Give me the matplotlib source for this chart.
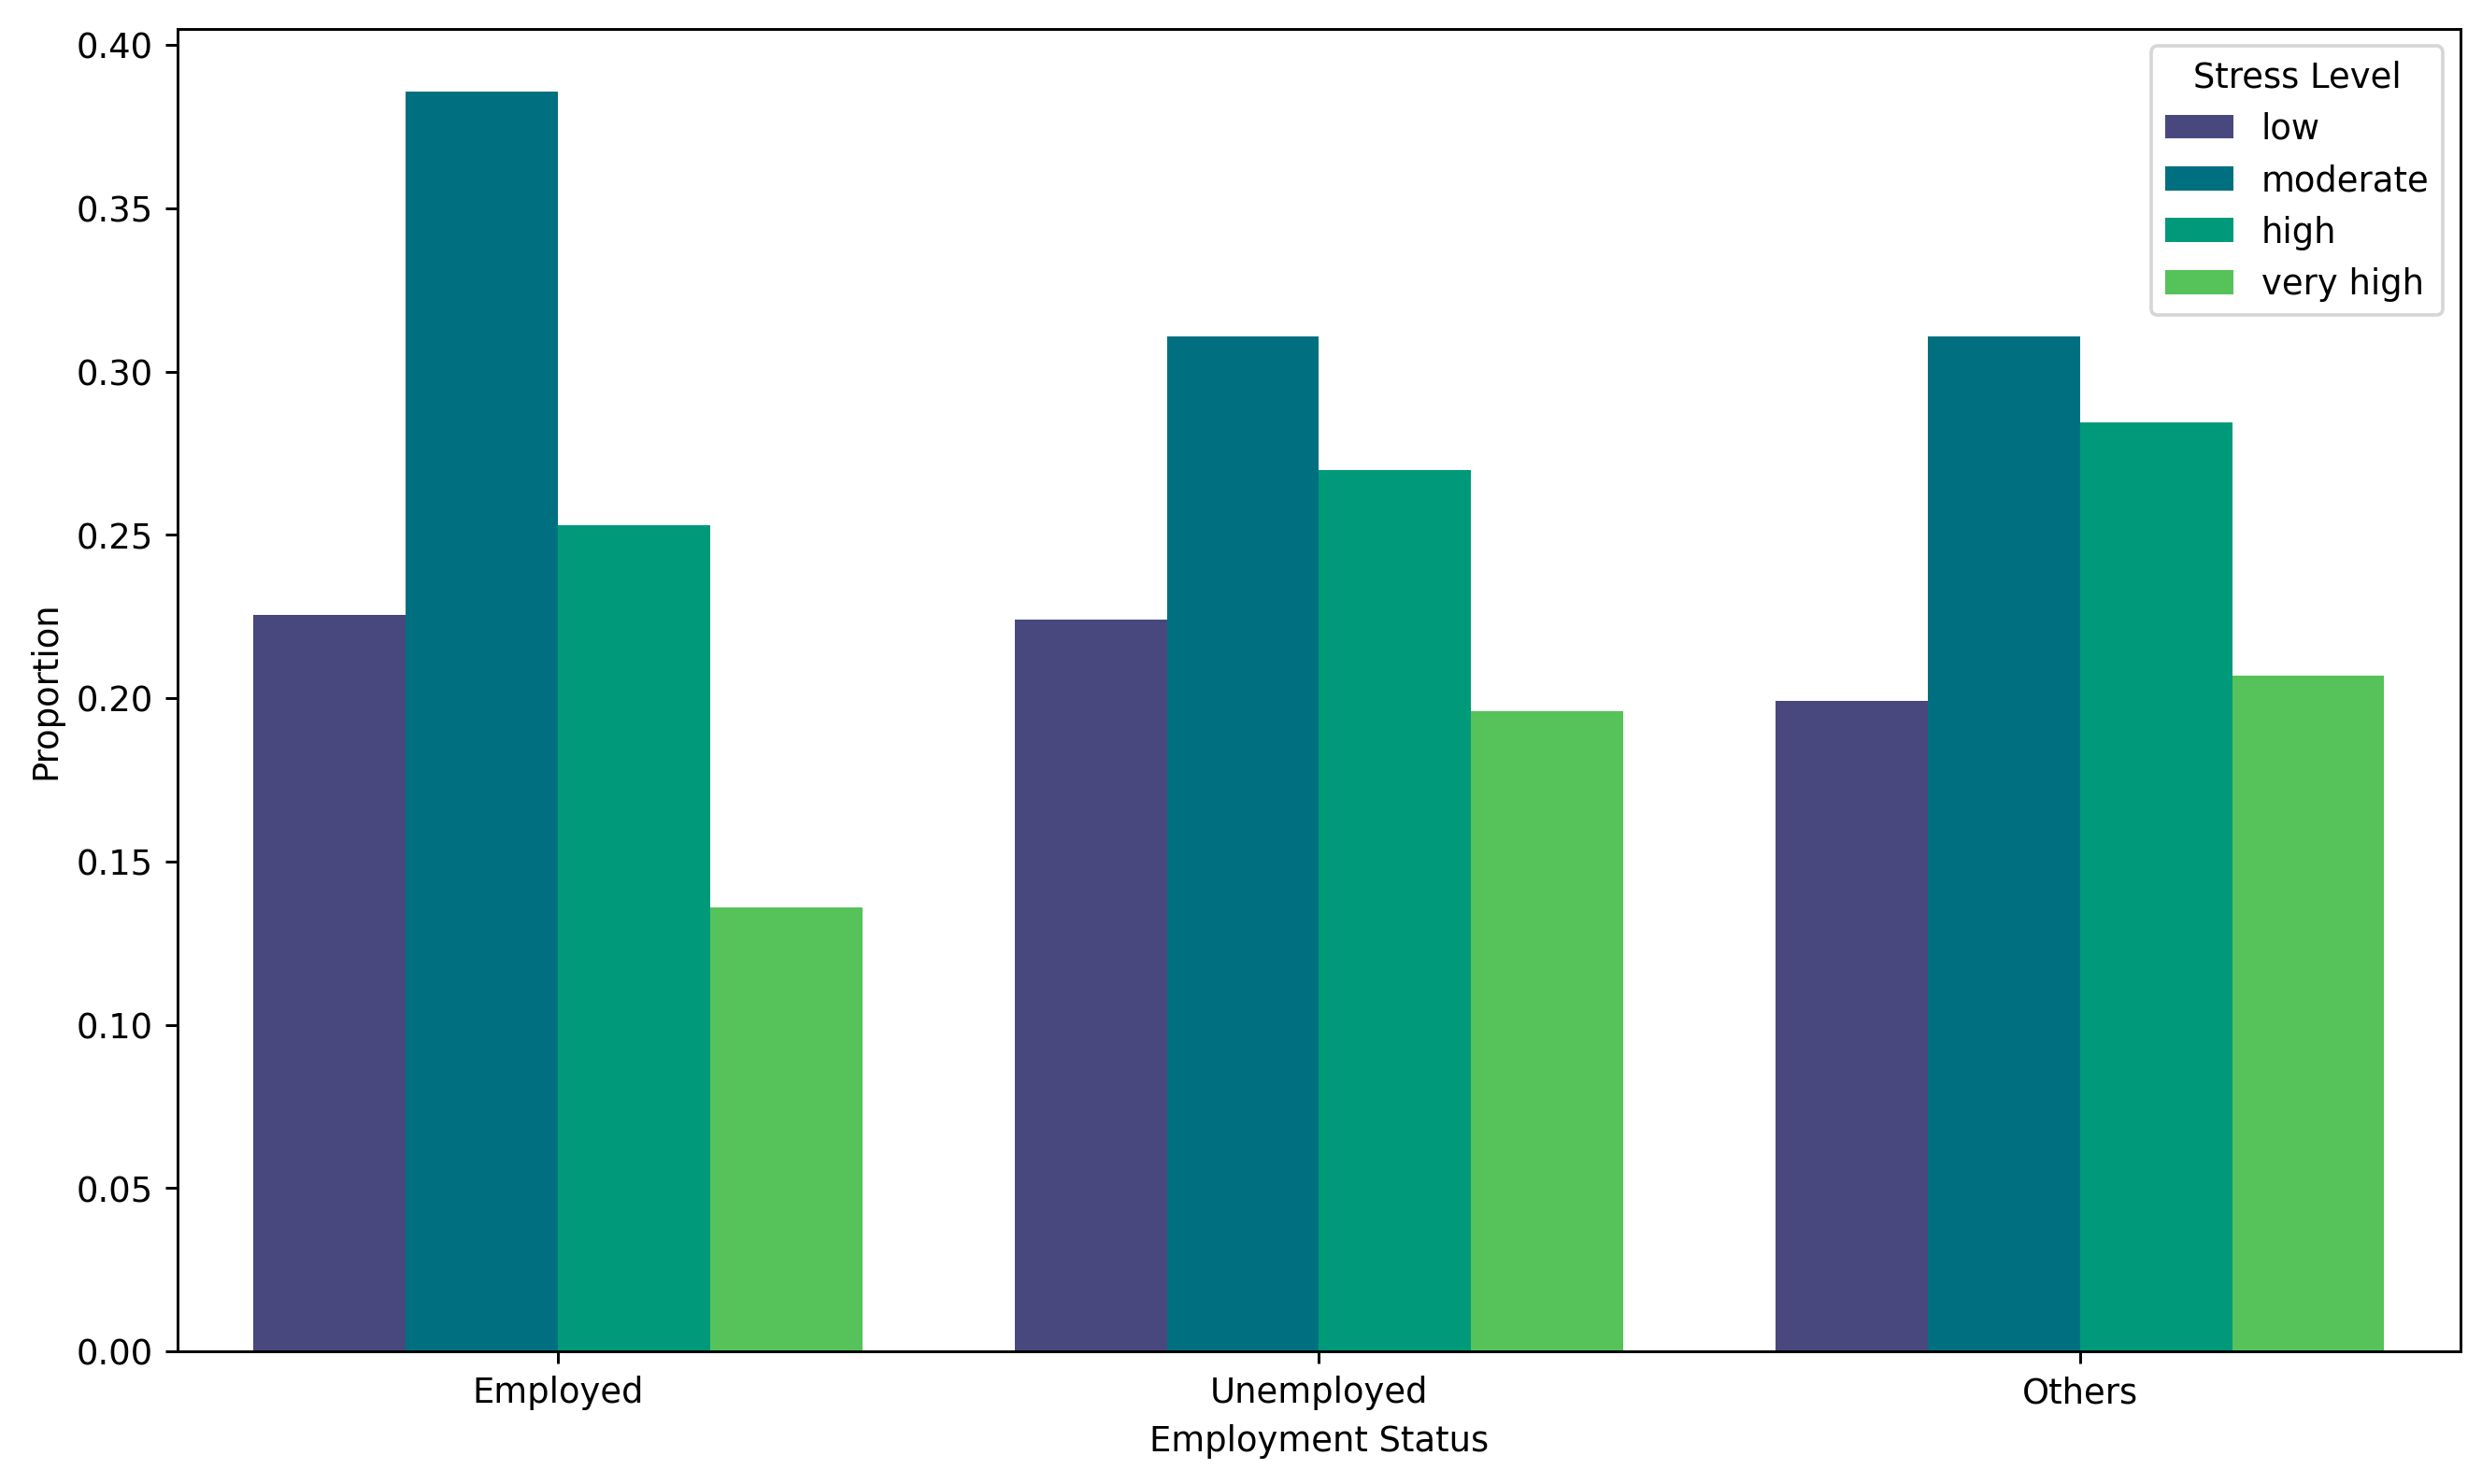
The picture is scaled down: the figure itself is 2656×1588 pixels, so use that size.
import numpy as np
import pandas as pd
from matplotlib import pyplot as plt

# proportion of each stress level within each employment status
status = ['Employed', 'Unemployed', 'Others']
levels = ['low', 'moderate', 'high', 'very high']
low = [0.2255, 0.224, 0.1993]
moderate = [0.3857, 0.3108, 0.3108]
high = [0.2530, 0.2699, 0.2845]
very_high = [0.1360, 0.1960, 0.2070]

colors = ['#48487F', '#007080', '#009A7A', '#55C25A']

dta = pd.DataFrame({'low': low, 'moderate': moderate, 'high': high,
                    'very high': very_high}, index=status)

fig, ax = plt.subplots(figsize=(10, 5.98), dpi=265.6)
x = np.arange(len(status))
w = 0.2
for i, lvl in enumerate(levels):
    ax.bar(x - 0.3 + i * w, dta[lvl], width=w, color=colors[i], label=lvl)

ax.set_xticks(x)
ax.set_xticklabels(status)
ax.set_xlim(-0.5, 2.5)
ax.set_xlabel('Employment Status')
ax.set_ylabel('Proportion')
ax.legend(title='Stress Level', loc='upper right')
plt.subplots_adjust(left=0.0715, right=0.9913, bottom=0.0894, top=0.9805)
plt.savefig('out.png')
